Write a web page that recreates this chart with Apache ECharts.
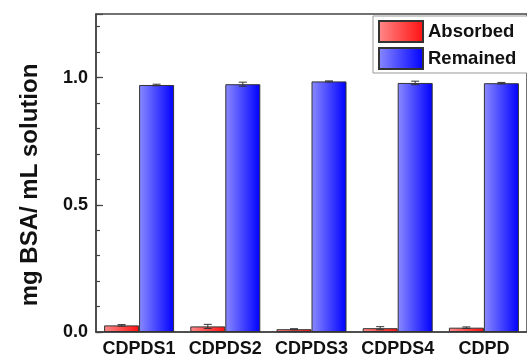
<!DOCTYPE html>
<html>
<head>
<meta charset="utf-8">
<script src="https://cdn.jsdelivr.net/npm/echarts@6/dist/echarts.min.js"></script>
<style>html,body{margin:0;padding:0;background:#fff}#c{width:527px;height:358px}</style>
</head>
<body>
<div id="c"></div>
<script>
var categories = ['CDPDS1', 'CDPDS2', 'CDPDS3', 'CDPDS4', 'CDPD'];
var absorbed = [0.026, 0.022, 0.011, 0.015, 0.017];
var absorbedErr = [0.003, 0.008, 0.002, 0.006, 0.003];
var remained = [0.971, 0.974, 0.985, 0.979, 0.978];
var remainedErr = [0.003, 0.008, 0.002, 0.007, 0.003];
var yTickLabels = ['0.0', '0.5', '1.0'];

var FONT = 'Liberation Sans, Arial, sans-serif';
var redGrad = new echarts.graphic.LinearGradient(0, 0, 1, 0, [
  {offset: 0, color: '#ff8a8a'}, {offset: 1, color: '#ff1010'}]);
var blueGrad = new echarts.graphic.LinearGradient(0, 0, 1, 0, [
  {offset: 0, color: '#8a8aff'}, {offset: 1, color: '#0000ff'}]);

function errSeries(vals, errs, off) {
  return {
    type: 'custom',
    z: 5,
    data: vals.map(function (v, i) { return [i, v, errs[i]]; }),
    renderItem: function (params, api) {
      var i = api.value(0), v = api.value(1), e = api.value(2);
      var hi = api.coord([i, v + e]);
      var lo = api.coord([i, v - e]);
      var x = hi[0] + off;
      var st = {stroke: '#333', lineWidth: 1};
      return {type: 'group', children: [
        {type: 'line', shape: {x1: x, y1: hi[1], x2: x, y2: lo[1]}, style: st},
        {type: 'line', shape: {x1: x - 4, y1: hi[1], x2: x + 4, y2: hi[1]}, style: st},
        {type: 'line', shape: {x1: x - 4, y1: lo[1], x2: x + 4, y2: lo[1]}, style: st}
      ]};
    }
  };
}

var chart = echarts.init(document.getElementById('c'));
chart.setOption({
  animation: false,
  grid: {left: 96, right: -3, top: 14, bottom: 25.5, show: true, borderColor: '#444', borderWidth: 1.5, backgroundColor: '#fff'},
  legend: {
    data: ['Absorbed', 'Remained'],
    orient: 'vertical', left: 373, top: 16,
    itemWidth: 44, itemHeight: 21, itemGap: 4,
    padding: [4, 12, 3, 5],
    borderColor: '#999', borderWidth: 1, backgroundColor: '#fff',
    textStyle: {fontFamily: FONT, fontWeight: 'bold', fontSize: 18.5, color: '#111', padding: [0, 0, 0, 0]},
    icon: 'rect'
  },
  xAxis: {
    type: 'category', data: categories,
    axisLine: {lineStyle: {color: '#444', width: 1.5}},
    axisTick: {show: false},
    axisLabel: {interval: 0, fontFamily: FONT, fontWeight: 'bold', fontSize: 18, color: '#111', margin: 8}
  },
  yAxis: [{
    type: 'value', min: 0, max: 1.25, interval: 0.1,
    name: 'mg BSA/ mL solution', nameLocation: 'middle', nameGap: 54,
    nameTextStyle: {fontFamily: FONT, fontWeight: 'bold', fontSize: 24, color: '#111', padding: [0, 0, 0, -24]},
    axisLine: {show: true, lineStyle: {color: '#444', width: 1.5}},
    axisTick: {show: true, inside: true, length: 4, lineStyle: {color: '#444', width: 1.2}},
    splitLine: {show: false},
    axisLabel: {
      fontFamily: FONT, fontWeight: 'bold', fontSize: 18, color: '#111', margin: 8,
      showMaxLabel: false,
      formatter: function (v) {
        var k = Math.round(v * 2);
        if (Math.abs(v * 2 - k) < 1e-6 && yTickLabels[k] !== undefined) return yTickLabels[k];
        return '';
      }
    }
  }, {
    type: 'value', min: 0, max: 1.25, interval: 0.5, position: 'left',
    axisLine: {show: false},
    axisTick: {show: true, inside: true, length: 7, lineStyle: {color: '#444', width: 1.2}},
    axisLabel: {show: false},
    splitLine: {show: false}
  }],
  series: [{
    name: 'Absorbed', type: 'bar', data: absorbed, barWidth: 35, barGap: '0%',
    itemStyle: {color: redGrad, borderColor: '#333', borderWidth: 1}
  }, {
    name: 'Remained', type: 'bar', data: remained, barWidth: 35, barGap: '0%',
    itemStyle: {color: blueGrad, borderColor: '#333', borderWidth: 1}
  },
  errSeries(absorbed, absorbedErr, -17.5),
  errSeries(remained, remainedErr, 17.5)]
});
</script>
</body>
</html>
